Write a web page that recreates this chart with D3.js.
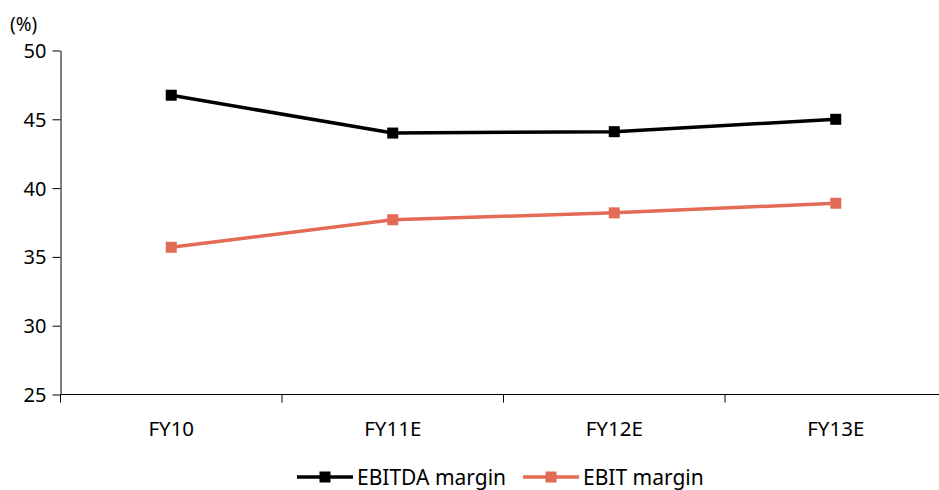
<!DOCTYPE html>
<html><head><meta charset="utf-8">
<script src="https://cdn.jsdelivr.net/npm/d3@7"></script>
<style>body{margin:0;background:#fff}text{font-family:"Noto Sans",sans-serif;fill:#000}</style>
</head><body>
<svg id="c" width="939" height="490"></svg>
<script>
const categories = ["FY10","FY11E","FY12E","FY13E"];
const ebitda = [46.75, 44.0, 44.1, 45.0];
const ebit = [35.7, 37.7, 38.2, 38.9];
const yTicks = [25,30,35,40,45,50];
const seriesNames = ["EBITDA margin","EBIT margin"];
const colors = ["#000000","#E46B55"];

const svg = d3.select("#c");
const x = d3.scaleBand().domain(categories).range([60.5, 946.5]);
const y = d3.scaleLinear().domain([25,50]).range([394.5, 50.5]);

const yAxis = svg.append("g").attr("transform","translate(60.5,0)")
  .call(d3.axisLeft(y).tickValues(yTicks).tickSize(8).tickPadding(6).tickSizeOuter(0));
yAxis.select(".domain").attr("stroke","#000");
yAxis.selectAll("text").style("font-size","20px").attr("dy","0.35em");

const xAxis = svg.append("g").attr("transform","translate(0,394.5)")
  .call(d3.axisBottom(x).tickSize(0).tickPadding(27));
xAxis.select(".domain").attr("d","M60.5,0H946.5");
xAxis.selectAll("text").style("font-size","20.5px");
xAxis.selectAll(".tb").data(categories.concat([null])).enter().append("line")
  .attr("x1",(d,i)=> i<categories.length ? x(d) : x.range()[1])
  .attr("x2",(d,i)=> i<categories.length ? x(d) : x.range()[1])
  .attr("y1",0).attr("y2",8).attr("stroke","#000");

svg.append("text").attr("x",10).attr("y",31).style("font-size","19px").text("(%)");

const cx = d => x(d) + x.bandwidth()/2;
[ebitda, ebit].forEach((vals,si)=>{
  const line = d3.line().x((d,i)=>cx(categories[i])).y(d=>y(d));
  svg.append("path").datum(vals).attr("d",line).attr("fill","none")
    .attr("stroke",colors[si]).attr("stroke-width",3.5);
  svg.selectAll(".m"+si).data(vals).enter().append("rect")
    .attr("x",(d,i)=>cx(categories[i])-5.5).attr("y",d=>y(d)-5.5)
    .attr("width",11).attr("height",11).attr("fill",colors[si]);
});

// legend
const legX = [297, 523];
seriesNames.forEach((n,i)=>{
  const g = svg.append("g").attr("transform",`translate(${legX[i]},477)`);
  g.append("line").attr("x1",0).attr("x2",56).attr("stroke",colors[i]).attr("stroke-width",3.5);
  g.append("rect").attr("x",22.5).attr("y",-5.5).attr("width",11).attr("height",11).attr("fill",colors[i]);
  g.append("text").attr("x",60).attr("y",7.5).style("font-size","21px").text(n);
});
</script>
</body></html>
